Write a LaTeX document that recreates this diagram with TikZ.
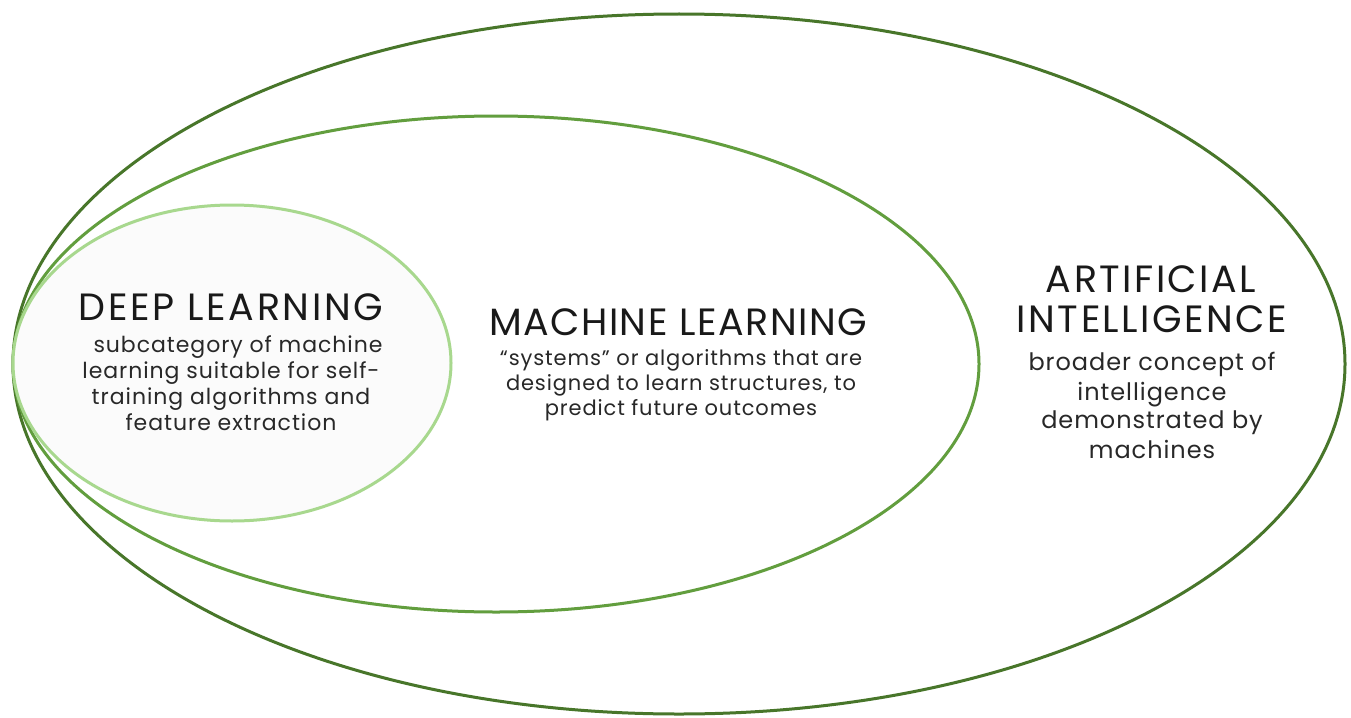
\documentclass[tikz,border=0pt]{standalone}
\usepackage{fontspec}
\setmainfont{Poppins}
\newfontfamily\dltitle[LetterSpace=7]{Poppins}
\newfontfamily\mltitle[LetterSpace=4]{Poppins}
\newfontfamily\aititle[LetterSpace=6.5]{Poppins}
\newfontfamily\dlbody[LetterSpace=4.3]{Poppins}
\newfontfamily\mlbody[LetterSpace=4.2]{Poppins}
\newfontfamily\aibody[LetterSpace=4]{Poppins}
\definecolor{outergreen}{RGB}{72,118,42}
\definecolor{midgreen}{RGB}{98,158,62}
\definecolor{innergreen}{RGB}{168,216,142}
\definecolor{innerfill}{RGB}{251,251,251}
\definecolor{textgray}{RGB}{40,40,40}
\tikzset{
  ring/.style={line width=3pt},
  titletext/.style={anchor=base, text=black!90, inner sep=0pt},
  bodytext/.style={anchor=base, text=textgray, align=center, inner sep=0pt},
}
\begin{document}
\begin{tikzpicture}[x=1pt,y=-1pt]
\useasboundingbox (0,0) rectangle (1351,717);
\fill[white] (0,0) rectangle (1351,717);
\draw[ring, outergreen] (679,364) ellipse [x radius=666, y radius=350];
\draw[ring, midgreen] (496,364) ellipse [x radius=483, y radius=248];
\draw[ring, innergreen, fill=innerfill] (232,363) ellipse [x radius=219, y radius=158];

\node[titletext, font=\dltitle\fontsize{38}{38}\selectfont] (dl) at (231,320) {DEEP LEARNING};
\node[bodytext, font=\dlbody\fontsize{22}{26}\selectfont] (dlb) at (238,352) {subcategory of machine};
\node[bodytext, font=\dlbody\fontsize{22}{26}\selectfont] (dlb2) at (231,378) {learning suitable for self-};
\node[bodytext, font=\dlbody\fontsize{22}{26}\selectfont] (dlb3) at (231,404) {training algorithms and};
\node[bodytext, font=\dlbody\fontsize{22}{26}\selectfont] (dlb4) at (231,430) {feature extraction};

\node[titletext, font=\mltitle\fontsize{38}{38}\selectfont] (ml) at (678,335) {MACHINE LEARNING};
\node[bodytext, font=\mlbody\fontsize{21}{25}\selectfont] (mlb) at (681,365) {“systems” or algorithms that are};
\node[bodytext, font=\mlbody\fontsize{21}{25}\selectfont] (mlb2) at (681,390) {designed to learn structures, to};
\node[bodytext, font=\mlbody\fontsize{21}{25}\selectfont] (mlb3) at (681,415) {predict future outcomes};

\node[titletext, font=\aititle\fontsize{38}{38}\selectfont] (ai) at (1151,292) {ARTIFICIAL};
\node[titletext, font=\aititle\fontsize{38}{38}\selectfont] (ai2) at (1152,332) {INTELLIGENCE};
\node[bodytext, font=\aibody\fontsize{24}{29}\selectfont] (aib) at (1152,370) {broader concept of};
\node[bodytext, font=\aibody\fontsize{24}{29}\selectfont] (aib2) at (1152,400) {intelligence};
\node[bodytext, font=\aibody\fontsize{24}{29}\selectfont] (aib3) at (1152,428) {demonstrated by};
\node[bodytext, font=\aibody\fontsize{24}{29}\selectfont] (aib4) at (1152,458) {machines};
\end{tikzpicture}
\end{document}
